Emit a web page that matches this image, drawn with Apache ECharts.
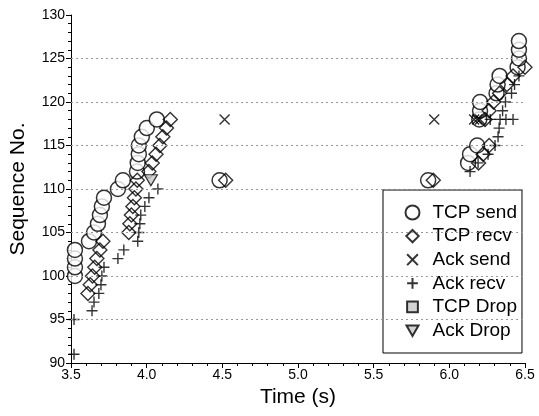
<!DOCTYPE html>
<html><head><meta charset="utf-8">
<script src="https://cdn.jsdelivr.net/npm/echarts@6/dist/echarts.min.js"></script>
<style>html,body{margin:0;padding:0;background:#fff}#c{width:539px;height:416px}</style>
</head><body><div id="c"></div>
<script>
const FONT = "Liberation Sans, Arial, sans-serif";
// TCP send (circles)
const tcpSendT   = [3.526,3.526,3.526,3.526,3.619,3.652,3.678,3.691,3.704,3.718,3.810,3.843,3.936,3.941,3.948,3.948,3.968,4.001,4.067,4.482,5.860,6.124,6.137,6.184,6.198,6.203,6.203,6.312,6.319,6.332,6.451,6.460,6.460,6.460];
const tcpSendSeq = [100,101,102,103,104,105,106,107,108,109,110,111,112,113,114,115,116,117,118,111,111,113,114,115,118,119,120,121,122,123,124,125,126,127];
// TCP recv (diamonds)
const tcpRecvT   = [3.612,3.627,3.642,3.657,3.671,3.691,3.711,3.882,3.889,3.899,3.909,3.919,3.929,3.938,4.015,4.037,4.062,4.087,4.107,4.131,4.156,4.522,5.894,6.193,6.223,6.263,6.236,6.263,6.292,6.332,6.381,6.421,6.500];
const tcpRecvSeq = [98,99,100,101,102,103,104,105,106,107,108,109,110,111,112,113,114,115,116,117,118,111,111,113,114,115,118,119,120,121,122,123,124];
// Ack send (x)
const ackSendT   = [4.515,5.900,6.164,6.184,6.203];
const ackSendSeq = [118,118,118,118,118];
// Ack recv (+)
const ackRecvT   = [3.520,3.520,3.639,3.652,3.684,3.698,3.704,3.718,3.810,3.849,3.941,3.948,3.955,3.961,3.988,4.015,4.074,6.137,6.190,6.256,6.302,6.322,6.329,6.270,6.335,6.374,6.421,6.352,6.371,6.411,6.431,6.460];
const ackRecvSeq = [91,95,96,97,98,99,100,101,102,103,104,105,106,107,108,109,110,112,113,114,115,116,117,118,118,118,118,119,120,121,122,123];
// TCP drop (none visible)
const tcpDropT = [], tcpDropSeq = [];
// Ack drop (triangle)
const ackDropT = [4.028], ackDropSeq = [111];

const xTicks = [3.5,4.0,4.5,5.0,5.5,6.0,6.5];
const yTicks = [90,95,100,105,110,115,120,125,130];
const gridLevels = [95,100,105,110,115,120,125];

const zip = (a,b) => a.map((v,i)=>[v,b[i]]);
const X_PATH = 'path://M0,0L10,10M10,0L0,10';
const P_PATH = 'path://M5,0L5,10M0,5L10,5';
const TRI_PATH = 'path://M0,0L12,0L6,10.4Z';
// legend icons (padded so they draw smaller inside the 14px box)
const LEG_X = 'path://M-1.5,-1.5M0,0L10,10M10,0L0,10M11.5,11.5';
const LEG_P = 'path://M-1.5,-1.5M5,0L5,10M0,5L10,5M11.5,11.5';
const LEG_SQ = 'path://M-1.5,-1.5M0,0L10,0L10,10L0,10ZM11.5,11.5';
const LEG_TRI = 'path://M-1,-2M0,0L12,0L6,10.4ZM13,12';
const LEG_DIA = 'path://M-0.8,-0.8M6,0L12,6L6,12L0,6ZM12.8,12.8';
const strokeSym = {color:'none', borderColor:'#000', borderWidth:1.4};

const chart = echarts.init(document.getElementById('c'), null, {renderer:'canvas'});
chart.setOption({
  animation:false,
  backgroundColor:'#fff',
  textStyle:{fontFamily:FONT},
  grid:{left:70, right:14, top:15, bottom:53, containLabel:false},
  xAxis:{
    type:'value', min:xTicks[0], max:xTicks[xTicks.length-1], interval:0.5,
    name:'Time (s)', nameLocation:'middle', nameGap:23,
    nameTextStyle:{fontSize:21, color:'#000', fontFamily:FONT},
    axisLine:{onZero:false, lineStyle:{color:'#000', width:1}},
    axisTick:{show:true, inside:false, length:5, lineStyle:{color:'#000'}},
    minorTick:{show:true, splitNumber:5, length:3, lineStyle:{color:'#000'}},
    axisLabel:{fontSize:14, color:'#000', margin:5, formatter:v=>v.toFixed(1), fontFamily:FONT},
    splitLine:{show:false}
  },
  yAxis:{
    type:'value', min:yTicks[0], max:yTicks[yTicks.length-1], interval:5,
    name:'Sequence No.', nameLocation:'middle', nameGap:42, nameRotate:90,
    nameTextStyle:{fontSize:21, color:'#000', fontFamily:FONT},
    axisLine:{show:true, onZero:false, lineStyle:{color:'#000', width:1}},
    axisTick:{show:true, inside:false, length:5, lineStyle:{color:'#000'}},
    minorTick:{show:true, splitNumber:5, length:3, lineStyle:{color:'#000'}},
    axisLabel:{fontSize:14, color:'#000', margin:6, fontFamily:FONT},
    splitLine:{show:false}
  },
  legend:{
    orient:'vertical', left:383, top:190,
    backgroundColor:'#fff', borderColor:'#000', borderWidth:1,
    padding:[13,5,13,20], itemGap:4.6, itemWidth:14, itemHeight:14,
    textStyle:{fontSize:19, color:'#000', fontFamily:FONT, padding:[0,0,0,8]},
    data:[
      {name:'TCP send', icon:'circle'},
      {name:'TCP recv', icon:LEG_DIA},
      {name:'Ack send', icon:LEG_X},
      {name:'Ack recv', icon:LEG_P},
      {name:'TCP Drop', icon:LEG_SQ},
      {name:'Ack Drop', icon:LEG_TRI}
    ]
  },
  series:[
    {name:'grid', type:'scatter', data:[], silent:true, legendHoverLink:false,
     markLine:{silent:true, symbol:'none', label:{show:false}, animation:false,
       lineStyle:{color:'#999', type:[2,3], width:1},
       data:gridLevels.map(v=>({yAxis:v}))}},
    {name:'TCP send', type:'scatter', data:zip(tcpSendT,tcpSendSeq), symbol:'circle', symbolSize:15,
     itemStyle:{color:'#fff', borderColor:'#000', borderWidth:1.5}},
    {name:'TCP recv', type:'scatter', data:zip(tcpRecvT,tcpRecvSeq), symbol:'diamond', symbolSize:[14,14],
     itemStyle:{color:'none', borderColor:'#000', borderWidth:1.4}},
    {name:'Ack send', type:'scatter', data:zip(ackSendT,ackSendSeq), symbol:X_PATH, symbolSize:10,
     itemStyle:strokeSym},
    {name:'Ack recv', type:'scatter', data:zip(ackRecvT,ackRecvSeq), symbol:P_PATH, symbolSize:11,
     itemStyle:strokeSym},
    {name:'TCP Drop', type:'scatter', data:zip(tcpDropT,tcpDropSeq), symbol:'rect', symbolSize:11,
     itemStyle:{color:'#c8c8c8', borderColor:'#000', borderWidth:1.2}},
    {name:'Ack Drop', type:'scatter', data:zip(ackDropT,ackDropSeq), symbol:TRI_PATH, symbolSize:[13,11],
     itemStyle:{color:'#c8c8c8', borderColor:'#000', borderWidth:1.2}}
  ]
});
</script></body></html>
